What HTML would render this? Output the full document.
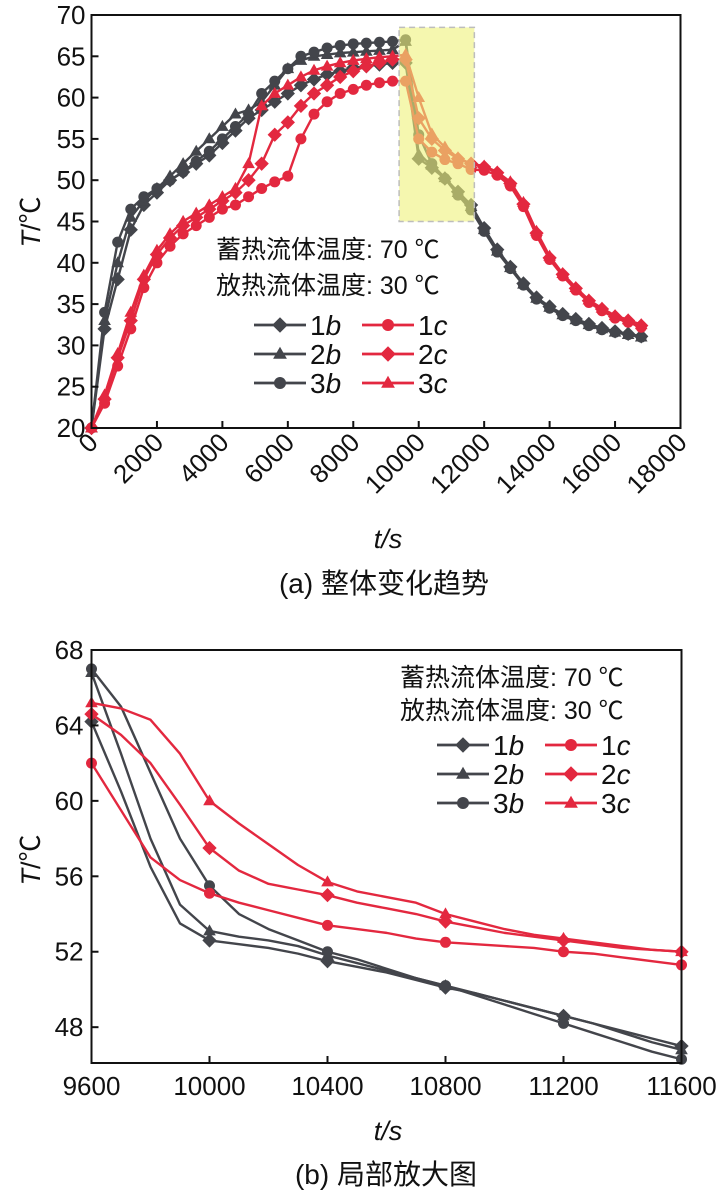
<!DOCTYPE html>
<html><head><meta charset="utf-8">
<style>
html,body{margin:0;padding:0;background:#fff;}
svg{display:block;font-family:"Liberation Sans","Noto Sans CJK SC",sans-serif;}
</style></head>
<body>
<svg id="fig" width="724" height="1200" viewBox="0 0 724 1200"></svg>
<script>
// ---------- Chart (a) data ----------
const heatTimes = [0,400,800,1200,1600,2000,2400,2800,3200,3600,4000,4400,4800,5200,5600,6000,6400,6800,7200,7600,8000,8400,8800,9200];
const heat1b = [20,32,38,44,47,48.5,50,51,52,53,54.5,56,57.5,58.5,59.5,60.5,61.5,62.2,62.8,63.2,63.6,63.8,64,64.2];
const heat2b = [20,33,40,45.5,47.5,49,50.5,52,53.5,55,56.5,58,58.5,59.5,61.5,63.5,64.5,65,65.2,65.4,65.5,65.6,65.7,65.8];
const heat3b = [20,34,42.5,46.5,48,49,50,51,52.3,53.5,55,56.5,58,60.5,62,63.5,65,65.5,66,66.3,66.5,66.6,66.7,66.8];
const heat1c = [20,23,27.5,32,37,40,42,43.5,44.5,45.5,46.5,47,48,49,49.8,50.5,55,58,59.5,60.5,61,61.5,61.8,62];
const heat2c = [20,23.5,28.5,33,38,41,43,44.5,45.5,46.5,47.5,48.5,50,52,55.5,57,59,60.5,61.5,62.5,63.2,63.8,64.2,64.6];
const heat3c = [20,24,29,34,38.5,41.5,43.5,45,46,47,48,49,52,59,60.5,61.5,62.5,63.3,63.8,64.2,64.5,64.7,64.9,65];
const coolTimes = [9600,10000,10400,10800,11200,11600,12000,12400,12800,13200,13600,14000,14400,14800,15200,15600,16000,16400,16800];
const cool1b = [64.2,52.6,51.5,50.2,48.6,47,44.2,41.6,39.5,37.5,35.8,34.7,33.8,33.2,32.6,32.1,31.7,31.4,31.1];
const cool2b = [66.8,53.1,51.8,50.3,48.5,46.8,44,41.4,39.4,37.4,35.7,34.6,33.7,33.1,32.5,32,31.6,31.3,31];
const cool3b = [67,55.5,52,50.2,48.2,46.4,43.8,41.3,39.3,37.3,35.6,34.5,33.6,33,32.4,31.9,31.6,31.3,31];
const cool1c = [62,55,53.4,52.5,52,51.3,51.2,50.6,49.3,46.8,43.3,40.4,38.4,36.7,35.2,34.2,33.3,32.8,32.2];
const cool2c = [64.6,57.5,55,53.6,52.6,52,51.6,50.9,49.6,47.1,43.6,40.6,38.6,36.9,35.4,34.4,33.5,33,32.4];
const cool3c = [65.2,60,55.6,54,52.7,52,51.7,51,49.8,47.3,43.8,40.8,38.7,37,35.5,34.5,33.6,33.1,32.5];
const xTicksA = [0,2000,4000,6000,8000,10000,12000,14000,16000,18000];
const yTicksA = [20,25,30,35,40,45,50,55,60,65,70];

// ---------- Chart (b) data ----------
const zoomTimes = [9600,9700,9800,9900,10000,10100,10200,10300,10400,10500,10600,10700,10800,10900,11000,11100,11200,11300,11400,11500,11600];
const z1b = [64.2,60.5,56.5,53.5,52.6,52.4,52.2,51.9,51.5,51.2,50.9,50.5,50.1,49.8,49.4,49,48.6,48.2,47.8,47.4,47];
const z2b = [66.8,62.5,58,54.5,53.1,52.8,52.6,52.3,51.8,51.4,51,50.6,50.2,49.8,49.4,49,48.6,48.2,47.7,47.2,46.8];
const z3b = [67,65,61.5,58,55.5,54,53.2,52.6,52,51.6,51.1,50.6,50.2,49.7,49.2,48.7,48.2,47.7,47.2,46.7,46.3];
const z1c = [62,59.5,57,55.8,55.1,54.6,54.2,53.8,53.4,53.2,53,52.7,52.5,52.4,52.3,52.2,52,51.9,51.7,51.5,51.3];
const z2c = [64.6,63.5,62,59.8,57.5,56.3,55.6,55.3,55,54.6,54.3,54,53.6,53.3,53,52.8,52.6,52.4,52.2,52.1,52];
const z3c = [65.2,64.9,64.3,62.5,60,58.8,57.7,56.6,55.7,55.2,54.9,54.6,54,53.6,53.2,52.9,52.7,52.5,52.3,52.1,52];
const xTicksB = [9600,10000,10400,10800,11200,11600];
const yTicksB = [48,52,56,60,64,68];
</script>
<script>
const NS='http://www.w3.org/2000/svg';
const svg=document.getElementById('fig');
const DARK='#43454b', RED='#e3283f';
const TFS=26;
function mk(tag,attrs,parent){const e=document.createElementNS(NS,tag);for(const k in attrs)e.setAttribute(k,attrs[k]);(parent||svg).appendChild(e);return e;}
function txt(s,attrs,parent){const e=mk('text',attrs,parent);e.textContent=s;return e;}
function marker(g,shape,x,y,color,r){
  let e;
  if(shape==='d'){e=mk('polygon',{points:`${x},${y-r*1.3} ${x+r*1.3},${y} ${x},${y+r*1.3} ${x-r*1.3},${y}`,fill:color},g);}
  else if(shape==='t'){e=mk('polygon',{points:`${x},${y-r*1.2} ${x+r*1.15},${y+r*0.8} ${x-r*1.15},${y+r*0.8}`,fill:color},g);}
  else {e=mk('circle',{cx:x,cy:y,r:r,fill:color},g);}
  return e;
}
// ===== Chart A =====
const A={l:91.5,r:680.5,t:15,b:428,x0:0,x1:18000,y0:20,y1:70};
const ax=v=>A.l+(v-A.x0)/(A.x1-A.x0)*(A.r-A.l);
const ay=v=>A.b-(v-A.y0)/(A.y1-A.y0)*(A.b-A.t);
const gA=mk('g',{});


const seriesA=[
 ['1b',heat1b,cool1b,'d',DARK],['2b',heat2b,cool2b,'t',DARK],['3b',heat3b,cool3b,'c',DARK],
 ['1c',heat1c,cool1c,'c',RED],['2c',heat2c,cool2c,'d',RED],['3c',heat3c,cool3c,'t',RED]];
seriesA.forEach(([nm,h,c,sh,col])=>{
  const ts=heatTimes.concat(coolTimes), vs=h.concat(c);
  const g=mk('g',{},gA);
  
  
  const pts=ts.map((t,i)=>ax(t)+','+ay(vs[i])).join(' ');
  mk('polyline',{points:pts,fill:'none',stroke:col,'stroke-width':2.4},g);
  ts.forEach((t,i)=>{const m=marker(g,sh,ax(t),ay(vs[i]),col,5.5);
    
    });
});
const hl=mk('rect',{x:ax(9400),y:ay(68.5),width:ax(11700)-ax(9400),height:ay(45)-ay(68.5),fill:'#eef27a','fill-opacity':0.6,stroke:'#bdbdbd','stroke-width':1.5,'stroke-dasharray':'6,4'});


const fA=mk('rect',{x:A.l,y:A.t,width:A.r-A.l,height:A.b-A.t,fill:'none',stroke:'#111','stroke-width':2});


yTicksA.forEach(v=>{
  mk('line',{x1:A.l,x2:A.l+7,y1:ay(v),y2:ay(v),stroke:'#111','stroke-width':2});
  const t=txt(String(v),{x:A.l-6,y:ay(v)+9,'text-anchor':'end','font-size':TFS,fill:'#111'});
  
  
});
xTicksA.forEach(v=>{
  mk('line',{x1:ax(v),x2:ax(v),y1:A.b,y2:A.b-7,stroke:'#111','stroke-width':2});
  const x=ax(v)+8,y=A.b+16;
  const t=txt(String(v),{x:x,y:y,'text-anchor':'end','font-size':TFS,fill:'#111',transform:`rotate(-45 ${x} ${y})`});
  
  
});
let t1=txt('',{x:0,y:0,'font-size':27,fill:'#111',transform:'translate(40,222) rotate(-90)','text-anchor':'middle'});
t1.innerHTML='<tspan font-style="italic">T</tspan>/℃';


let t2=txt('t/s',{x:388,y:548,'font-size':27,fill:'#111','text-anchor':'middle','font-style':'italic'});


let c1=txt('(a) 整体变化趋势',{x:384,y:593,'font-size':28,fill:'#111','text-anchor':'middle'});


function legend(x0,y0,fs,dy){
  const lg=mk('g',{});
  
  
  const it=[['1',DARK,'d','b'],['2',DARK,'t','b'],['3',DARK,'c','b'],['1',RED,'c','c'],['2',RED,'d','c'],['3',RED,'t','c']];
  it.forEach((e,i)=>{
    const col=i<3?0:1, row=i%3;
    const x=x0+col*108, y=y0+row*dy;
    const g=mk('g',{},lg);
    
    
    mk('line',{x1:x,x2:x+52,y1:y,y2:y,stroke:e[1],'stroke-width':2.8},g);
    marker(g,e[2],x+26,y,e[1],6);
    const t=txt('',{x:x+56,y:y+10,'font-size':fs,fill:'#111'},g);
    t.innerHTML=e[0]+'<tspan font-style="italic">'+e[3]+'</tspan>';
  });
}
let n1=txt('蓄热流体温度: 70 ℃',{x:216,y:258,'font-size':25,fill:'#111'});

let n2=txt('放热流体温度: 30 ℃',{x:216,y:294,'font-size':25,fill:'#111'});

legend(254,325,28,29);

// ===== Chart B =====
const B={l:91.5,r:681.5,t:650,b:1063,x0:9600,x1:11600,y0:46.1,y1:68};
const bx=v=>B.l+(v-B.x0)/(B.x1-B.x0)*(B.r-B.l);
const by=v=>B.b-(v-B.y0)/(B.y1-B.y0)*(B.b-B.t);
const seriesB=[['1b',z1b,'d',DARK],['2b',z2b,'t',DARK],['3b',z3b,'c',DARK],['1c',z1c,'c',RED],['2c',z2c,'d',RED],['3c',z3c,'t',RED]];
const gB=mk('g',{});


seriesB.forEach(([nm,vs,sh,col])=>{
  const g=mk('g',{},gB);
  
  
  const pts=zoomTimes.map((t,i)=>bx(t)+','+by(vs[i])).join(' ');
  mk('polyline',{points:pts,fill:'none',stroke:col,'stroke-width':2.4,'stroke-linejoin':'round'},g);
  zoomTimes.forEach((t,i)=>{ if(i%4===0){const m=marker(g,sh,bx(t),by(vs[i]),col,5.5);
    
    }});
});
const fB=mk('rect',{x:B.l,y:B.t,width:B.r-B.l,height:B.b-B.t,fill:'none',stroke:'#111','stroke-width':2});


yTicksB.forEach(v=>{
  mk('line',{x1:B.l,x2:B.l+7,y1:by(v),y2:by(v),stroke:'#111','stroke-width':2});
  const t=txt(String(v),{x:B.l-8,y:by(v)+9,'text-anchor':'end','font-size':TFS,fill:'#111'});
  
  
});
xTicksB.forEach(v=>{
  mk('line',{x1:bx(v),x2:bx(v),y1:B.b,y2:B.b-7,stroke:'#111','stroke-width':2});
  const t=txt(String(v),{x:bx(v),y:B.b+32,'text-anchor':'middle','font-size':TFS,fill:'#111'});
  
  
});
let t3=txt('',{x:0,y:0,'font-size':27,fill:'#111',transform:'translate(40,860) rotate(-90)','text-anchor':'middle'});
t3.innerHTML='<tspan font-style="italic">T</tspan>/℃';


let t4=txt('t/s',{x:388,y:1140,'font-size':27,fill:'#111','text-anchor':'middle','font-style':'italic'});


let c2=txt('(b) 局部放大图',{x:386,y:1184,'font-size':28,fill:'#111','text-anchor':'middle'});


let n3=txt('蓄热流体温度: 70 ℃',{x:400,y:686,'font-size':25,fill:'#111'});

let n4=txt('放热流体温度: 30 ℃',{x:400,y:719,'font-size':25,fill:'#111'});

legend(437,745,28,29);
</script>
</body></html>
